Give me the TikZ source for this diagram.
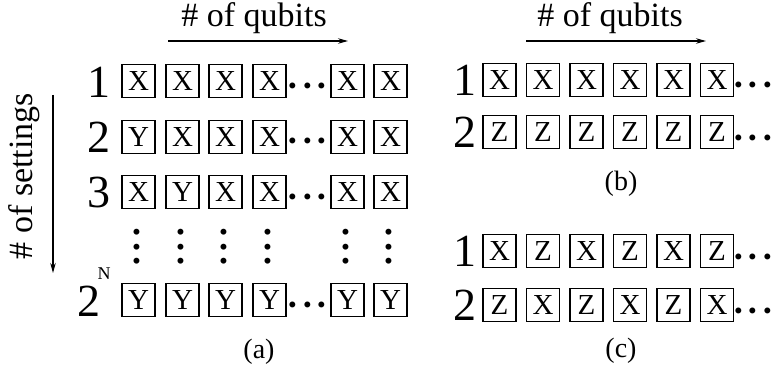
\documentclass[tikz,border=0pt]{standalone}
\usepackage{fontspec}
\setmainfont{Liberation Serif}
\usetikzlibrary{arrows.meta}
\newcommand{\mydots}{·\kern-2pt·\kern-2pt·}
\begin{document}
\begin{tikzpicture}[x=1pt,y=-1pt,
  qbox/.style={draw, line width=1.8pt, minimum size=33pt, inner sep=0pt, font=\fontsize{29}{29}\selectfont},
  rownum/.style={inner sep=0pt, font=\fontsize{46}{46}\selectfont},
  supn/.style={inner sep=0pt, font=\fontsize{18}{18}\selectfont},
  dotsn/.style={inner sep=0pt, anchor=base, font=\fontsize{50}{50}\selectfont},
  vdotsn/.style={dotsn, rotate=90},
  axislabel/.style={inner sep=0pt, font=\fontsize{34}{34}\selectfont},
  panellabel/.style={inner sep=0pt, font=\fontsize{28}{28}\selectfont},
  axisarrow/.style={line width=1.2pt, -{Stealth[length=10pt,width=5.5pt]}}]
\useasboundingbox (0,0) rectangle (778,374);

% ---------- panel (a) ----------
\node[axislabel, anchor=base] (aq) at (254,27) {\# of qubits};
\coordinate (aqs) at (168,41);
\coordinate (aqe) at (348,41);
\draw[axisarrow] (aqs) -- (aqe);

\node[axislabel, rotate=90] (as) at (24,176) {\# of settings};
\coordinate (ass) at (53,95);
\coordinate (ase) at (53,273);
\draw[axisarrow] (ass) -- (ase);

\node[rownum] (a1n) at (99,82) {1};
\node[rownum] (a2n) at (99,137) {2};
\node[rownum] (a3n) at (99,192) {3};
\node[rownum] (aNn) at (89,301) {2};
\node[supn] (aNs) at (104,274) {N};

\foreach \l/\x [count=\i] in {X/138.5,X/182.5,X/225.5,X/269.5,X/347.5,X/390.5}
  \node[qbox] (a1-\i) at (\x,81) {\l};
\foreach \l/\x [count=\i] in {Y/138.5,X/182.5,X/225.5,X/269.5,X/347.5,X/390.5}
  \node[qbox] (a2-\i) at (\x,137) {\l};
\foreach \l/\x [count=\i] in {X/138.5,Y/182.5,X/225.5,X/269.5,X/347.5,X/390.5}
  \node[qbox] (a3-\i) at (\x,192) {\l};
\foreach \l/\x [count=\i] in {Y/138.5,Y/182.5,Y/225.5,Y/269.5,Y/347.5,Y/390.5}
  \node[qbox] (aN-\i) at (\x,300) {\l};
\foreach \x [count=\i] in {138.5,182.5,225.5,269.5,347.5,390.5}
  \node[vdotsn] (av-\i) at (\x+15,247) {\mydots};
\node[dotsn] (a1d) at (307.5,103) {\mydots};
\node[dotsn] (a2d) at (307.5,158) {\mydots};
\node[dotsn] (a3d) at (307.5,213) {\mydots};
\node[dotsn] (aNd) at (307.5,321) {\mydots};
\node[panellabel] (alab) at (259,352) {(a)};

% ---------- panel (b) ----------
\node[axislabel, anchor=base] (bq) at (610,27) {\# of qubits};
\coordinate (bqs) at (526,41);
\coordinate (bqe) at (706,41);
\draw[axisarrow] (bqs) -- (bqe);

\node[rownum] (b1n) at (465,80) {1};
\node[rownum] (b2n) at (465,132) {2};
\foreach \l/\x [count=\i] in {X/499.5,X/543,X/586.5,X/630,X/673.5,X/717}
  \node[qbox] (b1-\i) at (\x,80) {\l};
\foreach \l/\x [count=\i] in {Z/499.5,Z/543,Z/586.5,Z/630,Z/673.5,Z/717}
  \node[qbox] (b2-\i) at (\x,132) {\l};
\node[dotsn] (b1d) at (753,102) {\mydots};
\node[dotsn] (b2d) at (753,154) {\mydots};
\node[panellabel] (blab) at (621,184) {(b)};

% ---------- panel (c) ----------
\node[rownum] (c1n) at (465,251) {1};
\node[rownum] (c2n) at (465,305) {2};
\foreach \l/\x [count=\i] in {X/499.5,Z/543,X/586.5,Z/630,X/673.5,Z/717}
  \node[qbox] (c1-\i) at (\x,251) {\l};
\foreach \l/\x [count=\i] in {Z/499.5,X/543,Z/586.5,X/630,Z/673.5,X/717}
  \node[qbox] (c2-\i) at (\x,305) {\l};
\node[dotsn] (c1d) at (753,273) {\mydots};
\node[dotsn] (c2d) at (753,327) {\mydots};
\node[panellabel] (clab) at (621,351) {(c)};
\end{tikzpicture}
\end{document}
